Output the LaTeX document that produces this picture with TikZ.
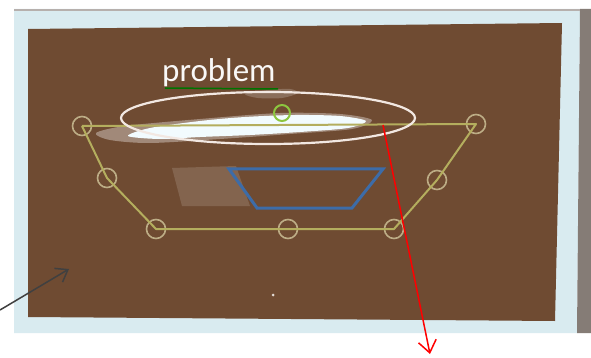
\documentclass[tikz,border=0pt]{standalone}
\usepackage{fontspec}
\setmainfont{Carlito}
\usetikzlibrary{arrows.meta,shapes.geometric}
\definecolor{brownbg}{HTML}{6F4B32}
\definecolor{framebg}{HTML}{D9EBF0}
\definecolor{edgegray}{HTML}{857C76}
\definecolor{olive}{HTML}{B4AE5E}
\definecolor{tanring}{HTML}{BDAD86}
\definecolor{ringgreen}{HTML}{8CC63F}
\definecolor{trapblue}{HTML}{3D6CA8}
\definecolor{ellwhite}{HTML}{F2E8E2}
\tikzset{
  ring/.style={circle, draw=tanring, line width=1.6pt, minimum size=19pt, inner sep=0pt},
  greenring/.style={circle, draw=ringgreen, line width=2pt, minimum size=16pt, inner sep=0pt},
  olivepath/.style={draw=olive, line width=2pt, line join=round},
  traplink/.style={draw=trapblue, line width=3pt, line join=miter},
  redarrow/.style={draw=red, line width=1.5pt, -{Straight Barb[length=12pt, width=18pt, line width=1.5pt]}},
  grayarrow/.style={draw=black!75, line width=1.5pt, -{Straight Barb[length=11pt, width=16pt, line width=1.5pt]}},
}
\begin{document}
\begin{tikzpicture}[x=1pt, y=-1pt]
\useasboundingbox (0,0) rectangle (591,358);
\fill[white] (0,0) rectangle (591,358);
% photo frame
\fill[framebg] (14,9) -- (580,9) -- (577,333) -- (14,333) -- cycle;
\fill[edgegray] (580,9) -- (591,9) -- (591,333) -- (577,333) -- cycle;
\fill[edgegray!60] (14,9) -- (580,9) -- (580,11.5) -- (14,11.5) -- cycle;
% projected slide
\fill[brownbg] (28,29) -- (562,23) -- (555,321) -- (28,317) -- cycle;
\fill[white!80!brownbg] (273,295) circle (1.5);
% faint grey smudge left of the trapezoid
\fill[white, opacity=0.14] (172,168) -- (236,166) -- (250,206) -- (182,206) -- cycle;
% white smear
\fill[white, opacity=0.35] plot[smooth cycle, tension=0.5] coordinates {(96,133) (125,126) (200,119) (280,113) (340,114) (372,120) (352,129) (290,134) (220,139) (150,143) (110,140)};
\fill[cyan!5!white] plot[smooth cycle, tension=0.5] coordinates {(128,136) (150,128) (200,121) (245,117) (295,115) (340,116) (366,121) (348,128) (300,132) (250,135) (200,137) (160,139)};
\fill[white, opacity=0.2] plot[smooth cycle] coordinates {(245,94) (268,90) (290,89) (298,93) (282,98) (258,98)};
% polygon rings
\node[ring] (p1) at (82,126) {};
\node[ring] (p2) at (107,178) {};
\node[ring] (p3) at (156,229) {};
\node[ring] (p4) at (288,229) {};
\node[ring] (p5) at (394,229) {};
\node[ring] (p6) at (437,180) {};
\node[ring] (p7) at (476,124) {};
\node[greenring] (g) at (282,113) {};
\path[olivepath] (p1.center) -- (p2.center) -- (p3.center) -- (p4.center) -- (p5.center) -- (p6.center) -- (p7.center) -- (p1.center);
% blue trapezoid
\coordinate (t1) at (229,169);
\coordinate (t2) at (383,169);
\coordinate (t3) at (352,208);
\coordinate (t4) at (257,208);
\path[traplink] (t1) -- (t2) -- (t3) -- (t4) -- cycle;
% ellipse
\node[draw=ellwhite, line width=2.2pt, ellipse, minimum width=294pt, minimum height=52pt, inner sep=0pt] (ell) at (268,118) {};
% label
\node[anchor=base west, text=white!96!brownbg, font=\fontsize{33}{33}\selectfont, inner sep=0pt] (lbl) at (162,82) {problem};
\draw[green!45!black, line width=1.5pt] (lbl.base west) ++(3,6) coordinate (u1) -- ++(113,1) coordinate (u2);
% arrows
\coordinate (rs) at (383,125);
\coordinate (re) at (430,354);
\draw[redarrow] (rs) -- (re);
\coordinate (gs) at (0,310);
\coordinate (ge) at (69,269);
\draw[grayarrow] (gs) -- (ge);
\end{tikzpicture}
\end{document}
